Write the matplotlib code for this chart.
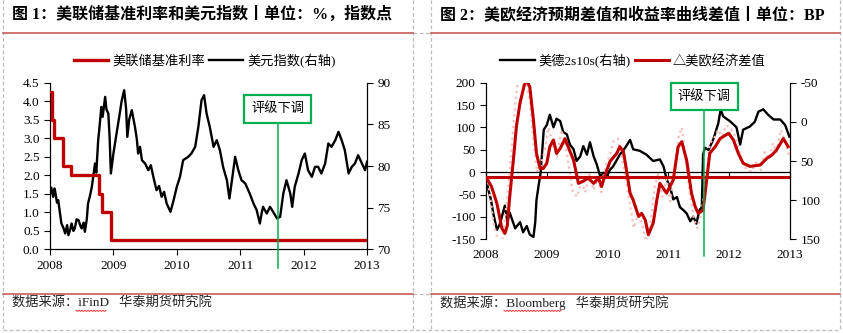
import matplotlib.pyplot as plt
from matplotlib.lines import Line2D
import numpy as np

plt.rcParams['font.family'] = ['Liberation Serif', 'Noto Sans CJK SC']
plt.rcParams['axes.unicode_minus'] = False

# ---------------- data (decimal years) ----------------
years = [2008, 2009, 2010, 2011, 2012, 2013]
downgrade = 2011.59  # 标普下调美国评级

# 图1 美联储基准利率 (%)
fed_t = [2008.00, 2008.03, 2008.065, 2008.21, 2008.33, 2008.77, 2008.82, 2008.96, 2013.00]
fed_rate = [4.25, 3.5, 3.0, 2.25, 2.0, 1.5, 1.0, 0.25, 0.25]

# 图1 美元指数 (右轴)
dxy_t = [2008.00, 2008.02, 2008.05, 2008.07, 2008.08, 2008.11, 2008.13, 2008.16, 2008.18, 2008.21,
         2008.24, 2008.27, 2008.29, 2008.32, 2008.34, 2008.37, 2008.39, 2008.42, 2008.45, 2008.48,
         2008.50, 2008.53, 2008.55, 2008.58, 2008.60, 2008.63, 2008.66, 2008.71, 2008.73, 2008.76,
         2008.78, 2008.81, 2008.83, 2008.87, 2008.89, 2008.92, 2008.94, 2008.96, 2009.00, 2009.05,
         2009.10, 2009.13, 2009.17, 2009.20, 2009.22, 2009.25, 2009.29, 2009.34, 2009.37, 2009.39,
         2009.42, 2009.45, 2009.50, 2009.55, 2009.59, 2009.63, 2009.68, 2009.72, 2009.76, 2009.80,
         2009.84, 2009.90, 2009.95, 2010.00, 2010.05, 2010.10, 2010.18, 2010.23, 2010.29, 2010.34,
         2010.39, 2010.43, 2010.47, 2010.52, 2010.58, 2010.63, 2010.68, 2010.73, 2010.79, 2010.83,
         2010.87, 2010.92, 2010.97, 2011.02, 2011.08, 2011.15, 2011.21, 2011.26, 2011.31, 2011.34,
         2011.36, 2011.42, 2011.47, 2011.52, 2011.58, 2011.63, 2011.68, 2011.73, 2011.79, 2011.82,
         2011.86, 2011.92, 2011.97, 2012.02, 2012.07, 2012.13, 2012.18, 2012.23, 2012.28, 2012.34,
         2012.39, 2012.44, 2012.50, 2012.55, 2012.60, 2012.65, 2012.71, 2012.76, 2012.81, 2012.86,
         2012.92, 2012.97, 2013.00]
dxy = [76.7, 77.4, 76.3, 77.3, 77.0, 75.6, 75.9, 74.2, 73.1, 72.6,
       71.9, 72.9, 71.7, 72.4, 73.1, 72.2, 72.5, 73.6, 73.5, 72.8,
       72.5, 73.2, 72.1, 73.6, 75.5, 76.4, 77.5, 80.3, 79.2, 83.1,
       84.6, 87.1, 85.9, 88.3, 86.8, 86.3, 83.5, 79.1, 81.5, 83.9,
       86.3, 87.8, 89.1, 86.9, 83.5, 85.6, 86.7, 84.7, 83.2, 81.5,
       82.3, 80.7, 80.3, 79.5, 80.1, 78.7, 77.1, 77.6, 76.3, 76.9,
       75.5, 74.5, 75.9, 77.5, 78.7, 80.7, 81.1, 81.5, 82.3, 84.7,
       87.9, 88.5, 86.3, 84.7, 82.3, 83.1, 81.9, 79.9, 78.3, 76.1,
       78.3, 81.1, 79.5, 78.3, 77.9, 76.7, 75.5, 74.7, 73.1, 74.4,
       75.1, 74.3, 75.1, 74.5, 73.7, 73.9, 76.7, 78.3, 76.7, 75.1,
       77.5, 79.1, 80.7, 81.5, 79.5, 78.7, 79.9, 79.9, 79.1, 80.3,
       82.7, 82.3, 83.1, 84.1, 83.1, 81.9, 79.1, 79.9, 80.3, 81.3,
       80.3, 79.5, 80.5]

# 图2 美德2s10s (右轴, bp)
curve_t = [2008.00, 2008.04, 2008.08, 2008.12, 2008.18, 2008.23, 2008.31, 2008.35, 2008.39, 2008.48,
           2008.56, 2008.61, 2008.67, 2008.72, 2008.78, 2008.81, 2008.83, 2008.86, 2008.90, 2008.95,
           2009.00, 2009.05, 2009.11, 2009.16, 2009.22, 2009.27, 2009.33, 2009.38, 2009.44, 2009.49,
           2009.55, 2009.60, 2009.66, 2009.71, 2009.77, 2009.82, 2009.88, 2009.93, 2009.98, 2010.04,
           2010.09, 2010.20, 2010.29, 2010.37, 2010.42, 2010.53, 2010.64, 2010.75, 2010.86, 2010.92,
           2010.97, 2011.03, 2011.08, 2011.14, 2011.19, 2011.25, 2011.30, 2011.36, 2011.41, 2011.46,
           2011.51, 2011.55, 2011.57, 2011.60, 2011.66, 2011.74, 2011.82, 2011.86, 2011.90, 2012.01,
           2012.12, 2012.18, 2012.23, 2012.34, 2012.42, 2012.48, 2012.56, 2012.64, 2012.73, 2012.84,
           2012.92, 2012.99]
curve_bp = [73, 87, 99, 117, 138, 130, 107, 127, 116, 136,
            128, 141, 133, 144, 147, 128, 100, 84, 64, 10,
            4, -9, 7, -4, -1, 13, 16, 29, 35, 50,
            44, 31, 42, 26, 44, 54, 70, 65, 71, 61,
            57, 42, 33, 23, 35, 37, 42, 50, 48, 57,
            73, 84, 99, 96, 109, 113, 117, 127, 121, 130,
            113, 109, 42, 33, 36, 22, 2, -16, -7, -1,
            7, 29, 10, 6, 0, -13, -16, -9, -3, -3,
            4, 19]

# 图2 △美欧经济差值 (平滑)
surp_t = [2008.01, 2008.09, 2008.18, 2008.26, 2008.31, 2008.35, 2008.39, 2008.45, 2008.50, 2008.56,
          2008.63, 2008.67, 2008.72, 2008.78, 2008.83, 2008.89, 2008.94, 2009.00, 2009.05, 2009.11,
          2009.16, 2009.22, 2009.30, 2009.35, 2009.44, 2009.52, 2009.60, 2009.68, 2009.77, 2009.85,
          2009.90, 2009.96, 2010.04, 2010.15, 2010.20, 2010.26, 2010.31, 2010.37, 2010.42, 2010.51,
          2010.56, 2010.62, 2010.67, 2010.75, 2010.81, 2010.86, 2010.97, 2011.08, 2011.16, 2011.22,
          2011.30, 2011.38, 2011.44, 2011.49, 2011.57, 2011.63, 2011.68, 2011.77, 2011.85, 2011.99,
          2012.07, 2012.15, 2012.23, 2012.34, 2012.51, 2012.62, 2012.70, 2012.78, 2012.89, 2012.97]
surp = [-13, -32, -70, -125, -137, -120, -55, 27, 102, 155,
        195, 205, 191, 117, 42, 8, 8, 20, 57, 72,
        42, 53, 75, 57, 27, -25, -20, -13, -25, -13,
        -32, -6, 24, 42, 57, 46, 5, -47, -62, -99,
        -92, -107, -140, -114, -62, -25, -47, -17, 57, 68,
        27, -47, -77, -92, -85, -17, 42, 57, 75, 87,
        72, 42, 20, 13, 16, 31, 38, 50, 75, 57]

# 图2 △美欧经济差值 (原始, 浅色虚点)
raw_t = [2008.00, 2008.06, 2008.12, 2008.20, 2008.27, 2008.33, 2008.38, 2008.43, 2008.48, 2008.53,
         2008.60, 2008.66, 2008.72, 2008.78, 2008.84, 2008.90, 2008.96, 2009.03, 2009.10, 2009.17,
         2009.24, 2009.30, 2009.37, 2009.43, 2009.50, 2009.57, 2009.63, 2009.70, 2009.77, 2009.83,
         2009.90, 2009.96, 2010.03, 2010.10, 2010.17, 2010.23, 2010.30, 2010.37, 2010.43, 2010.50,
         2010.57, 2010.63, 2010.70, 2010.77, 2010.83, 2010.90, 2010.97, 2011.03, 2011.10, 2011.17,
         2011.22, 2011.28, 2011.35, 2011.42, 2011.48, 2011.55, 2011.62, 2011.68, 2011.75, 2011.82,
         2011.88, 2011.95, 2012.02, 2012.10, 2012.17, 2012.23, 2012.30, 2012.37, 2012.45, 2012.52,
         2012.58, 2012.65, 2012.72, 2012.78, 2012.85, 2012.92, 2012.99]
raw = [-10, -45, -110, -155, -150, -80, -10, 70, 150, 210,
       215, 200, 160, 70, 0, 15, 45, 100, 60, 35,
       95, 65, 5, -45, -55, -15, -45, -5, -40, -15,
       -45, 15, 35, 70, 75, 35, -15, -75, -125, -95,
       -115, -155, -120, -35, -5, -55, -15, -65, 5, 80,
       100, 35, -45, -105, -125, -85, -15, 65, 75, 95,
       80, 105, 100, 80, 45, 15, 5, 0, 25, 5,
       45, 30, 65, 45, 95, 70, 35]
ref_level = -11

# ---------------- figure ----------------
W, H = 843, 333
fig = plt.figure(figsize=(W / 100, H / 100), dpi=100)

def fx(x):
    return x / W

def fy(y):
    return 1 - y / H

def fline(xs, ys, **kw):
    fig.add_artist(Line2D([fx(x) for x in xs], [fy(y) for y in ys], transform=fig.transFigure, **kw))

# table borders (dashed grey) and red rules
grey = dict(color='#bdbdbd', lw=0.9, ls=(0, (3, 2)))
for x in [3, 412.7, 430.7, 840]:
    fline([x, x], [0, 330], **grey)
fline([3, 840], [330, 330], **grey)
fline([412.7, 430.7], [33.3, 33.3], **grey)
fline([412.7, 430.7], [294.3, 294.3], **grey)
rule = dict(color='#c0504d', lw=1.1)
for y in [33.3, 294.3]:
    fline([3, 412.7], [y, y], **rule)
    fline([430.7, 840], [y, y], **rule)

fig.text(fx(12), fy(15), '图 1：美联储基准利率和美元指数丨单位：%，指数点',
         fontsize=11.5, weight='bold', va='center')
fig.text(fx(440), fy(15), '图 2：美欧经济预期差值和收益率曲线差值丨单位：BP',
         fontsize=11.5, weight='bold', va='center')
fig.text(fx(12), fy(303), '数据来源：iFinD   华泰期货研究院', fontsize=9.5, va='center', color='#222222')
fig.text(fx(440), fy(303), '数据来源：Bloomberg   华泰期货研究院', fontsize=9.5, va='center', color='#222222')

# spell-check squiggles under the source names
for x0, x1 in [(76, 106), (504, 562)]:
    xs = np.arange(x0, x1 + 0.1, 1.5)
    ys = 310.5 + 0.8 * (np.arange(len(xs)) % 2)
    fline(xs, ys, color='red', lw=0.6)

red = '#c00000'
green = '#00b050'
tick_kw = dict(direction='out', length=4, width=0.8, labelsize=9.5, colors='black')

# ---------------- 图1 ----------------
ax1 = fig.add_axes([fx(50), fy(249.3), fx(367) - fx(50), fy(82.7) - fy(249.3)])
ax1b = ax1.twinx()
l_fed, = ax1.plot(fed_t, fed_rate, color=red, lw=2.4, drawstyle='steps-post', zorder=3)
l_dxy, = ax1b.plot(dxy_t, dxy, color='black', lw=1.7)
ax1.set_zorder(ax1b.get_zorder() + 1)
ax1.patch.set_visible(False)

ax1.set_xlim(2008, 2013)
ax1.set_ylim(0, 4.5)
ax1b.set_ylim(70, 90)
ax1.set_xticks(years)
ax1.set_xticklabels([str(y) for y in years])
ax1.set_yticks(np.arange(0, 4.51, 0.5))
ax1.set_yticklabels(['%.1f' % v for v in np.arange(0, 4.51, 0.5)])
ax1b.set_yticks([70, 75, 80, 85, 90])
for a in (ax1, ax1b):
    a.spines['top'].set_visible(False)
    for s in a.spines.values():
        s.set_linewidth(0.8)
    a.tick_params(**tick_kw)

ax1.plot([downgrade, downgrade], [-0.5, 3.41], color=green, lw=1.1, clip_on=False, zorder=4)
ax1.text(downgrade, 3.79, '评级下调', ha='center', va='center', fontsize=9.5, zorder=5,
         bbox=dict(boxstyle='square,pad=0.55', fc='white', ec=green, lw=1.6))

fig.legend([l_fed, l_dxy], ['美联储基准利率', '美元指数(右轴)'], loc='center',
           bbox_to_anchor=(fx(205), fy(61)), ncol=2, frameon=False, fontsize=9.5,
           handlelength=2.6, handletextpad=0.3, columnspacing=0.3)

# ---------------- 图2 ----------------
ax2 = fig.add_axes([fx(486), fy(239.3), fx(790) - fx(486), fy(82.7) - fy(239.3)])
ax2b = ax2.twinx()
ax2.plot(raw_t, raw, color='#f7bdbd', lw=1.6, ls=':', zorder=1)
l_sur, = ax2.plot(surp_t, surp, color=red, lw=2.2, zorder=3)
ax2.axhline(ref_level, color=red, lw=2.2, zorder=3)
ax2.axhline(0, color='black', lw=0.9, zorder=2)
ax2.plot(years, [0] * len(years), ls='none', marker=3, ms=4, mew=0.8, color='black', clip_on=False)
l_cur, = ax2b.plot(curve_t, curve_bp, color='black', lw=1.7)
ax2.set_zorder(ax2b.get_zorder() + 1)
ax2.patch.set_visible(False)

ax2.set_xlim(2008, 2013)
ax2.set_ylim(-150, 200)
ax2b.set_ylim(150, -50)
ax2.set_xticks(years)
ax2.set_xticklabels([str(y) for y in years])
ax2.set_yticks(range(-150, 201, 50))
ax2b.set_yticks([-50, 0, 50, 100, 150])
for a in (ax2, ax2b):
    a.spines['top'].set_visible(False)
    a.spines['bottom'].set_visible(False)
    for s in a.spines.values():
        s.set_linewidth(0.8)
    a.tick_params(**tick_kw)
ax2.tick_params(axis='x', length=0, pad=7)

ax2.plot([downgrade, downgrade], [-187, 139], color=green, lw=1.1, clip_on=False, zorder=4)
ax2.text(downgrade, 169, '评级下调', ha='center', va='center', fontsize=9.5, zorder=5,
         bbox=dict(boxstyle='square,pad=0.55', fc='white', ec=green, lw=1.6))

fig.legend([l_cur, l_sur], ['美德2s10s(右轴)', '△美欧经济差值'], loc='center',
           bbox_to_anchor=(fx(633), fy(61)), ncol=2, frameon=False, fontsize=9.5,
           handlelength=2.6, handletextpad=0.3, columnspacing=0.3)

fig.savefig('out.png', dpi=100)
